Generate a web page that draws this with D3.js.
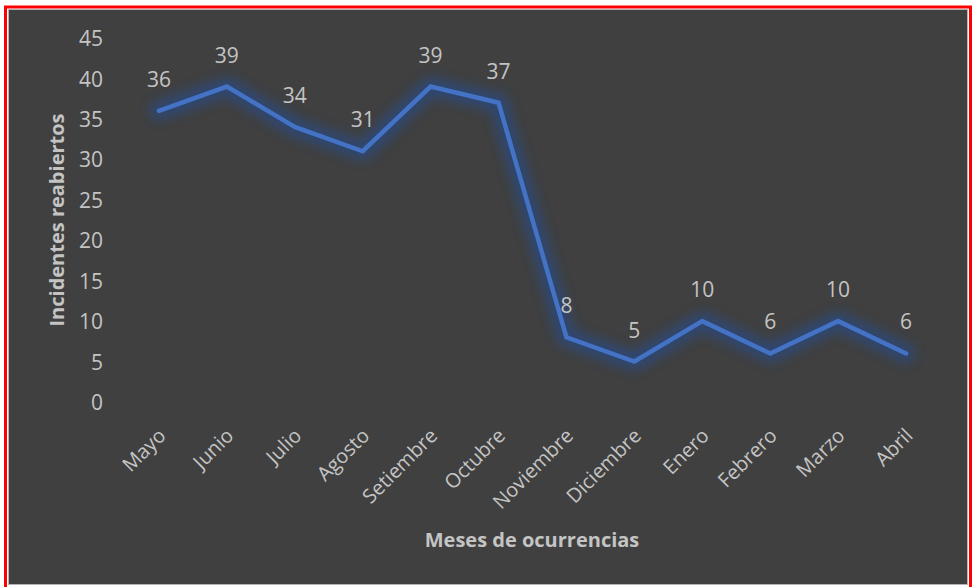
<!DOCTYPE html>
<html>
<head>
<meta charset="utf-8">
<script src="https://cdn.jsdelivr.net/npm/d3@7"></script>
<style>
  html, body { margin: 0; padding: 0; background: #ffffff; }
  svg { display: block; }
</style>
</head>
<body>
<script>
// Reopened incidents per month
const months = ["Mayo", "Junio", "Julio", "Agosto", "Setiembre", "Octubre",
                "Noviembre", "Diciembre", "Enero", "Febrero", "Marzo", "Abril"];
const reopened = [36, 39, 34, 31, 39, 37, 8, 5, 10, 6, 10, 6];
const yTicks = [0, 5, 10, 15, 20, 25, 30, 35, 40, 45];
const yTitle = "Incidentes reabiertos";
const xTitle = "Meses de ocurrencias";

const W = 973, H = 587;
const font = "'Open Sans', 'Noto Sans', sans-serif";
const textColor = "#c4c4c4";

const svg = d3.select("body").append("svg")
  .attr("width", W).attr("height", H);

// frame: red outline, grey rule, dark panel
svg.append("rect").attr("x", 5.5).attr("y", 7).attr("width", 965).attr("height", 584)
  .attr("fill", "none").attr("stroke", "#ff0000").attr("stroke-width", 3);
svg.append("rect").attr("x", 8.5).attr("y", 9.5).attr("width", 959).attr("height", 575)
  .attr("fill", "#404040").attr("stroke", "#b4b4b4").attr("stroke-width", 1);

const x = d3.scaleBand().domain(months).range([125, 940]);
const y = d3.scaleLinear().domain([0, 45]).range([402, 38]);
const cx = m => x(m) + x.bandwidth() / 2;

// y axis (labels only)
const yAxis = d3.axisLeft(y).tickValues(yTicks).tickSize(0).tickPadding(0);
const gy = svg.append("g").attr("transform", "translate(103,0)").call(yAxis);
gy.select(".domain").remove();
gy.selectAll("text")
  .attr("fill", textColor).attr("font-family", font).attr("font-size", 21)
  .attr("dy", "0.36em");

// x axis (rotated labels only)
const xAxis = d3.axisBottom(x).tickSize(0).tickPadding(0);
const gx = svg.append("g").attr("transform", "translate(0,432)").call(xAxis);
gx.select(".domain").remove();
gx.selectAll("text")
  .attr("fill", textColor).attr("font-family", font).attr("font-size", 20)
  .attr("text-anchor", "end")
  .attr("dy", "0.35em")
  .attr("transform", "translate(3,0) rotate(-45)");

// axis titles
svg.append("text")
  .attr("transform", "translate(64,220) rotate(-90)")
  .attr("text-anchor", "middle")
  .attr("fill", textColor).attr("font-family", font).attr("font-weight", "bold")
  .attr("font-size", 20).text(yTitle);
svg.append("text")
  .attr("x", 532).attr("y", 547)
  .attr("text-anchor", "middle")
  .attr("fill", textColor).attr("font-family", font).attr("font-weight", "bold")
  .attr("font-size", 20).text(xTitle);

// glow filter for the line
const defs = svg.append("defs");
const f = defs.append("filter").attr("id", "glow")
  .attr("x", "-10%").attr("y", "-10%").attr("width", "120%").attr("height", "120%");
f.append("feGaussianBlur").attr("in", "SourceGraphic").attr("stdDeviation", 6);

const line = d3.line().x((d, i) => cx(months[i])).y(d => y(d));

svg.append("path").datum(reopened)
  .attr("d", line)
  .attr("fill", "none").attr("stroke", "#2a4a86").attr("stroke-width", 18)
  .attr("stroke-opacity", 0.75)
  .attr("stroke-linejoin", "round").attr("stroke-linecap", "round")
  .attr("filter", "url(#glow)");

svg.append("path").datum(reopened)
  .attr("d", line)
  .attr("fill", "none").attr("stroke", "#4472c4").attr("stroke-width", 4.5)
  .attr("stroke-linejoin", "miter").attr("stroke-linecap", "round");

// data labels
svg.append("g").selectAll("text").data(reopened).join("text")
  .attr("x", (d, i) => cx(months[i]))
  .attr("y", d => y(d) - 24)
  .attr("text-anchor", "middle")
  .attr("fill", textColor).attr("font-family", font).attr("font-size", 21)
  .text(d => d);
</script>
</body>
</html>
